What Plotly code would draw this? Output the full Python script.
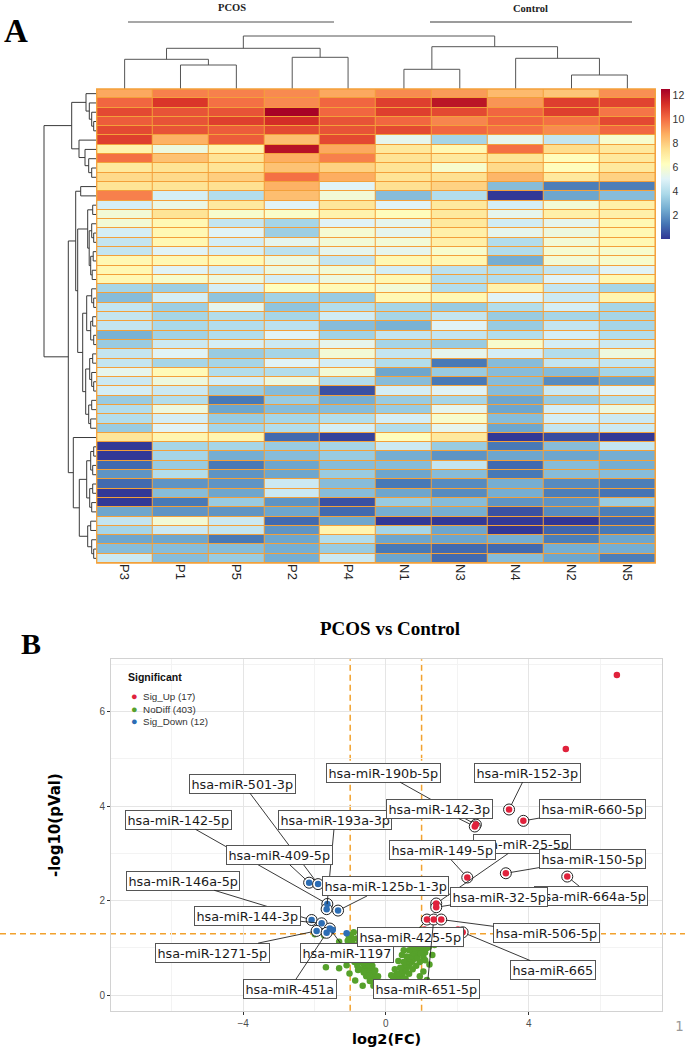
import math
import plotly.graph_objects as go

# ---------------- DATA : heatmap (panel A) ----------------
samples = ["P3", "P1", "P5", "P2", "P4", "N1", "N3", "N4", "N2", "N5"]

P3 = [8.9, 10.2, 10.8, 10.4, 10.8, 11.0, 6.8, 10.0, 7.2, 7.7,
      7.4, 9.7, 4.8, 5.8, 5.8, 4.8, 4.4, 4.4, 6.6, 6.6,
      6.6, 3.7, 3.0, 4.4, 4.4, 4.4, 2.7, 3.4, 4.4, 4.4,
      5.3, 4.6, 4.8, 3.4, 4.0, 4.0, 3.4, 7.3, 0.1, 0.1,
      1.1, 2.0, 1.1, 0.1, 0.1, 2.4, 4.4, 3.7, 2.4, 3.0,
      4.6]
P1 = [9.7, 11.2, 10.6, 10.6, 10.6, 8.7, 5.6, 8.3, 7.4, 7.7,
      7.4, 4.8, 5.5, 7.4, 6.6, 6.6, 6.6, 5.1, 6.6, 5.1,
      6.0, 3.5, 4.8, 3.5, 3.7, 3.8, 3.6, 4.6, 5.1, 3.7,
      6.5, 5.6, 4.6, 4.0, 5.6, 4.8, 5.1, 6.7, 3.7, 3.7,
      3.4, 4.0, 2.0, 3.0, 1.4, 2.0, 5.8, 4.6, 2.4, 3.0,
      3.0]
P5 = [9.7, 10.0, 10.6, 11.0, 10.4, 10.4, 6.8, 7.4, 7.4, 8.0,
      7.5, 4.0, 7.2, 6.0, 4.4, 5.1, 4.8, 4.8, 6.5, 4.8,
      5.6, 4.8, 3.2, 5.3, 4.0, 4.0, 4.0, 4.8, 3.4, 3.7,
      4.0, 4.8, 3.4, 1.4, 2.4, 3.4, 3.7, 6.7, 3.7, 2.6,
      1.4, 2.0, 2.0, 2.4, 3.4, 2.0, 4.6, 4.4, 1.4, 3.0,
      3.4]
P2 = [9.5, 9.5, 12.5, 11.4, 10.8, 8.4, 12.1, 8.8, 8.3, 10.0,
      8.7, 8.4, 5.1, 6.1, 3.7, 3.5, 5.3, 4.2, 5.6, 5.6,
      4.8, 6.3, 3.6, 3.2, 3.7, 4.2, 5.1, 4.6, 3.7, 5.1,
      4.0, 5.6, 3.0, 3.4, 3.0, 3.7, 4.0, 1.1, 3.4, 3.0,
      2.4, 2.4, 4.6, 4.6, 2.0, 2.4, 1.1, 2.0, 2.4, 2.6,
      2.6]
P4 = [8.9, 10.2, 10.2, 10.6, 10.6, 10.8, 8.9, 9.7, 7.9, 8.8,
      5.1, 5.8, 7.3, 6.8, 5.1, 5.9, 5.8, 5.3, 4.4, 5.8,
      5.6, 6.5, 3.4, 4.0, 4.7, 3.0, 3.6, 5.3, 5.8, 4.8,
      5.8, 4.0, 0.6, 2.6, 3.0, 4.0, 4.8, 0.3, 3.7, 3.4,
      3.0, 3.4, 3.0, 3.0, 0.6, 1.1, 2.4, 6.7, 4.0, 3.4,
      4.6]
N1 = [9.5, 11.0, 11.0, 10.2, 10.8, 5.3, 7.2, 7.4, 7.4, 7.4,
      7.5, 3.0, 5.1, 6.4, 5.3, 5.3, 5.8, 5.3, 6.6, 4.8,
      6.6, 5.8, 6.6, 3.7, 3.7, 2.7, 4.4, 3.7, 4.4, 4.0,
      2.4, 3.0, 4.8, 3.4, 3.4, 4.8, 4.0, 6.4, 4.6, 2.6,
      3.0, 2.4, 1.4, 2.4, 3.4, 2.6, 0.1, 3.7, 2.4, 1.4,
      2.4]
N3 = [9.2, 12.0, 10.8, 9.6, 10.2, 3.7, 6.6, 7.2, 6.0, 7.5,
      7.9, 4.0, 7.2, 7.2, 7.2, 6.9, 6.9, 6.0, 6.6, 4.2,
      4.0, 4.0, 6.6, 3.4, 4.4, 5.1, 4.4, 3.4, 5.3, 1.4,
      3.4, 1.4, 5.1, 3.7, 5.3, 6.0, 5.3, 7.2, 3.4, 2.0,
      4.4, 3.0, 1.8, 1.8, 3.0, 2.6, 0.1, 2.4, 2.4, 1.1,
      1.1]
N4 = [8.5, 9.3, 10.2, 10.2, 10.0, 5.3, 10.0, 7.4, 7.7, 8.6,
      3.0, 0.1, 4.8, 5.3, 4.7, 5.3, 4.0, 4.0, 2.6, 4.0,
      4.0, 6.8, 5.1, 4.0, 3.4, 3.4, 4.0, 6.0, 4.8, 3.0,
      3.0, 3.0, 3.0, 2.4, 2.4, 3.0, 2.4, 0.1, 1.4, 2.4,
      1.1, 1.4, 2.6, 2.6, 2.0, 0.6, 0.1, 0.1, 2.6, 1.1,
      3.0]
N2 = [8.2, 11.0, 11.0, 10.0, 9.5, 4.4, 7.6, 6.4, 6.4, 7.2,
      1.5, 2.4, 5.8, 6.9, 5.3, 5.6, 5.8, 5.9, 5.8, 4.4,
      5.1, 4.4, 4.6, 4.8, 3.7, 4.4, 4.8, 4.8, 4.0, 4.4,
      3.0, 1.8, 4.6, 3.4, 4.8, 4.8, 4.4, 0.5, 3.0, 2.4,
      3.0, 3.0, 1.8, 1.5, 2.0, 1.8, 0.0, 1.0, 1.5, 2.6,
      2.4]
N5 = [9.4, 10.9, 9.9, 10.8, 10.2, 6.0, 7.2, 7.2, 7.2, 7.9,
      1.5, 3.0, 6.9, 6.9, 6.6, 6.6, 6.6, 6.0, 6.0, 5.1,
      6.6, 3.7, 6.7, 3.7, 3.7, 3.7, 4.0, 4.6, 5.6, 4.4,
      3.7, 2.4, 5.1, 4.0, 5.6, 4.6, 4.6, 0.1, 4.4, 2.6,
      2.6, 3.0, 1.5, 1.3, 3.4, 1.5, 1.0, 1.4, 2.4, 2.6,
      1.5]

colorbar_ticks = [2, 4, 6, 8, 10, 12]
z_min, z_max = 0.06, 12.56

# column dendrogram (height, left, right); leaves = column positions
col_tree = (53.0, (40.7, (29.7, 0, (24.0, 1, 2)), (31.7, 3, 4)),
                  (42.3, (19.7, 5, 6), (30.7, 7, (14.0, 8, 9))))

# row dendrogram; leaves = row positions (0 = top row)
row_A1 = (10.7, 0, (7.4, 1, (5.0, 2, (3.0, 3, 4))))
row_A2 = (17.7, 5, (11.7, 6, (8.0, 7, (5.0, 8, 9))))
row_P = (16.0, 10, 11)
row_Q1 = (9.0, (4.0, 12, 13), (7.5, (5.0, 14, (3.0, 15, 16)), (6.0, (3.5, 17, 18), (4.5, 19, 20))))
row_Q2a = (10.0, (5.0, 21, (3.0, 22, 23)), (6.0, (4.0, 24, 25), (3.0, 26, 27)))
row_Q2b = (11.0, (7.0, (4.0, 28, 29), (5.0, 30, (3.0, 31, 32))), (8.0, (5.0, 33, 34), (6.0, 35, 36)))
row_R1 = (10.0, (6.0, (3.0, 38, 39), (4.0, 40, 41)), (7.0, (4.0, 42, 43), (5.0, 44, 45)))
row_R2 = (9.0, (6.0, 46, 47), (5.0, 48, (3.0, 49, 50)))
row_tree = (52.7,
            (25.0, row_A1, row_A2),
            (28.4,
             (21.0, row_P, (19.0, row_Q1, (14.0, row_Q2a, row_Q2b))),
             (23.4, 37, (17.4, row_R1, row_R2))))

# ---------------- DATA : volcano (panel B) ----------------
up_x = [6.47, 5.04, 3.45, 3.85, 2.52, 2.49, 2.28, 3.36, 5.08, 1.41, 1.41, 1.15, 1.34, 1.55, 2.15, 2.02, 1.08]
up_y = [6.78, 5.21, 3.93, 3.69, 3.61, 3.57, 2.49, 2.58, 2.51, 1.94, 1.86, 1.60, 1.60, 1.60, 1.33, 1.39, 1.39]
up_name = ["", "", "hsa-miR-152-3p", "hsa-miR-660-5p", "hsa-miR-190b-5p", "hsa-miR-142-3p",
           "hsa-miR-149-5p", "hsa-miR-150-5p", "hsa-miR-664a-5p", "hsa-miR-25-5p", "hsa-miR-32-5p",
           "hsa-miR-425-5p", "hsa-miR-651-5p", "hsa-miR-506-5p", "hsa-miR-665", "", ""]

down_x = [-2.15, -1.90, -1.64, -1.66, -1.34, -2.08, -1.80, -1.57, -1.94, -1.66, -1.10, -1.49]
down_y = [2.38, 2.35, 1.93, 1.82, 1.79, 1.59, 1.52, 1.41, 1.36, 1.32, 1.31, 1.38]
down_name = ["hsa-miR-409-5p", "hsa-miR-501-3p", "hsa-miR-142-5p", "hsa-miR-193a-3p",
             "hsa-miR-125b-1-3p", "hsa-miR-146a-5p", "hsa-miR-144-3p", "hsa-miR-1197",
             "hsa-miR-1271-5p", "hsa-miR-451a", "", ""]

nodiff_x = [-0.02, -0.05, -0.08, -0.04, -0.11, -0.14, -0.09, -0.18, -0.13, -0.21, -0.17, -0.25, -0.2, -0.28,
            -0.23, -0.31, -0.27, -0.35, -0.3, -0.38, -0.33, -0.42, -0.37, -0.46, -0.4, -0.49, -0.44, -0.53,
            -0.48, -0.57, -0.51, -0.6, -0.55, -0.64, -0.58, -0.68, -0.62, -0.71, -0.66, -0.75, -0.69, -0.78,
            -0.73, -0.82, -0.76, -0.86, -0.8, -0.89, -0.84, -0.93, -0.87, -0.96, -0.91, -1.0, -0.94, -1.03,
            -0.98, -1.07, -1.01, -0.97, -1.04, -0.99,
            -0.35, -0.45, -0.55, -0.62, -0.72, -0.8, -0.88, -0.95, -1.05, -1.12, -0.15, -0.22, -0.3, -0.38,
            -0.45, -0.52, -0.6, -0.68, -0.75, -0.82,
            0.02, 0.05, 0.08, 0.1, 0.07, 0.13, 0.16, 0.12, 0.19, 0.22, 0.17, 0.25, 0.28, 0.23, 0.31, 0.34,
            0.29, 0.37, 0.4, 0.35, 0.43, 0.46, 0.4, 0.49, 0.52, 0.46, 0.55, 0.58, 0.51, 0.61, 0.64, 0.57,
            0.67, 0.7, 0.62, 0.73, 0.76, 0.67, 0.79, 0.82, 0.72, 0.85, 0.88, 0.77, 0.91, 0.94, 0.82, 0.97,
            1.0, 0.87, 0.92, 0.98, 0.9, 0.96, 0.85, 0.93, 0.88, 0.97,
            0.3, 0.42, 0.55, 0.65, 0.75, 0.85, 0.95, 1.05, 1.1, 1.15, 0.2, 0.3, 0.4, 0.5, 0.58, 0.65, 0.72,
            0.78, 0.7, 0.6, 0.5, 0.45, 0.35, 0.25, 0.15, 0.8, 0.88, 0.98, 1.08, 1.2, 1.36, 1.15, 1.1, 1.22,
            1.05, 0.95,
            -1.68, -1.31, -1.02, -0.78, -0.86, -0.47, -1.1, -1.2, -1.31, -1.99, -1.73, -1.45, -1.2, -0.65,
            -0.9, 0.95, -0.6, 0.5, 1.3, 1.25]
nodiff_y = [0.01, 0.03, 0.05, 0.08, 0.09, 0.12, 0.14, 0.15, 0.18, 0.19, 0.22, 0.23, 0.26, 0.27,
            0.3, 0.31, 0.34, 0.35, 0.38, 0.39, 0.42, 0.43, 0.46, 0.47, 0.5, 0.51, 0.54, 0.55,
            0.58, 0.59, 0.62, 0.63, 0.66, 0.67, 0.7, 0.71, 0.74, 0.75, 0.78, 0.79, 0.82, 0.83,
            0.86, 0.87, 0.9, 0.91, 0.94, 0.95, 0.98, 0.99, 1.02, 1.03, 1.06, 1.07, 1.1, 1.11,
            1.14, 1.15, 1.18, 1.22, 1.25, 1.28,
            0.2, 0.3, 0.4, 0.48, 0.55, 0.62, 0.7, 0.78, 0.85, 0.95, 0.28, 0.4, 0.52, 0.62,
            0.72, 0.82, 0.9, 1.0, 1.1, 1.2,
            0.02, 0.05, 0.03, 0.08, 0.11, 0.12, 0.15, 0.17, 0.19, 0.21, 0.23, 0.25, 0.27, 0.29, 0.31, 0.33,
            0.35, 0.37, 0.39, 0.41, 0.43, 0.45, 0.47, 0.49, 0.51, 0.53, 0.55, 0.57, 0.59, 0.61, 0.63, 0.65,
            0.67, 0.69, 0.71, 0.73, 0.75, 0.77, 0.79, 0.81, 0.83, 0.85, 0.87, 0.89, 0.91, 0.93, 0.95, 0.97,
            0.99, 1.01, 1.05, 1.08, 1.12, 1.15, 1.18, 1.22, 1.26, 1.28,
            0.15, 0.25, 0.35, 0.45, 0.55, 0.62, 0.7, 0.8, 0.9, 1.0, 0.32, 0.45, 0.58, 0.7, 0.82, 0.95, 1.05,
            1.15, 1.25, 1.12, 0.95, 0.85, 0.72, 0.55, 0.42, 1.0, 0.78, 0.88, 1.1, 1.02, 1.06, 0.32, 0.74, 0.65,
            0.5, 0.4,
            0.59, 0.57, 0.46, 0.53, 0.31, 0.42, 0.63, 1.02, 1.13, 1.29, 1.27, 0.9, 0.75, 0.2,
            1.33, 1.38, 1.3, 1.3, 0.85, 1.2]

legend_title = "Significant"
legend_labels = ["Sig_Up (17)", "NoDiff (403)", "Sig_Down (12)"]
fc_cut = 1.0
p_cut = 0.05

# label box centres (layout, data units of the volcano axes)
label_pos = {
    "hsa-miR-152-3p": (3.96, 4.71), "hsa-miR-660-5p": (5.78, 3.94), "hsa-miR-190b-5p": (-0.08, 4.71),
    "hsa-miR-142-3p": (1.50, 3.94), "hsa-miR-149-5p": (1.58, 3.07), "hsa-miR-150-5p": (5.78, 2.89),
    "hsa-miR-664a-5p": (5.75, 2.10), "hsa-miR-25-5p": (3.81, 3.20), "hsa-miR-32-5p": (3.18, 2.07),
    "hsa-miR-425-5p": (0.70, 1.22), "hsa-miR-651-5p": (1.15, 0.12), "hsa-miR-506-5p": (4.50, 1.31),
    "hsa-miR-665": (4.68, 0.53),
    "hsa-miR-409-5p": (-2.98, 2.96), "hsa-miR-501-3p": (-4.01, 4.48), "hsa-miR-142-5p": (-5.80, 3.71),
    "hsa-miR-193a-3p": (-1.43, 3.71), "hsa-miR-125b-1-3p": (0.0, 2.30), "hsa-miR-146a-5p": (-5.68, 2.42),
    "hsa-miR-144-3p": (-3.87, 1.67), "hsa-miR-1197": (-1.08, 0.90), "hsa-miR-1271-5p": (-4.85, 0.90),
    "hsa-miR-451a": (-2.70, 0.13),
}
label_order = ["hsa-miR-25-5p", "hsa-miR-190b-5p", "hsa-miR-664a-5p", "hsa-miR-142-5p",
               "hsa-miR-501-3p", "hsa-miR-193a-3p", "hsa-miR-409-5p", "hsa-miR-146a-5p",
               "hsa-miR-144-3p", "hsa-miR-1271-5p", "hsa-miR-1197", "hsa-miR-451a",
               "hsa-miR-125b-1-3p", "hsa-miR-152-3p", "hsa-miR-660-5p", "hsa-miR-142-3p",
               "hsa-miR-149-5p", "hsa-miR-150-5p", "hsa-miR-32-5p", "hsa-miR-425-5p",
               "hsa-miR-506-5p", "hsa-miR-665", "hsa-miR-651-5p"]

# ---------------- STYLE / LAYOUT ----------------
W, H = 685, 1050
ORANGE = "#F3A03A"
RED, GREEN, BLUE = "#E0223C", "#56A12B", "#2C6DB4"
rdylbu_r = ["#313695", "#4575b4", "#74add1", "#abd9e9", "#e0f3f8", "#ffffbf",
            "#fee090", "#fdae61", "#f46d43", "#d73027", "#a50026"]
colorscale = [[i / (len(rdylbu_r) - 1), c] for i, c in enumerate(rdylbu_r)]


def fx(p):
    return p / W


def fy(p):
    return 1 - p / H


HM_L, HM_R, HM_T, HM_B = 96.7, 655.3, 89.0, 563.0
DEN_H = 54.0
VL, VR, VT, VB = 111.0, 661.5, 659.3, 1010.7


def dendro(node):
    if isinstance(node, int):
        return float(node), 0.0, [], []
    h, left, right = node
    pl, hl, xl, yl = dendro(left)
    pr, hr, xr, yr = dendro(right)
    xs = xl + xr + [pl, pl, pr, pr, None]
    ys = yl + yr + [hl, h, h, hr, None]
    return (pl + pr) / 2, h, xs, ys


fig = go.Figure()

columns = [P3, P1, P5, P2, P4, N1, N3, N4, N2, N5]
n_rows = len(P3)
z = [[col[i] for col in columns] for i in range(n_rows)]

fig.add_trace(go.Heatmap(
    z=z, x=list(range(len(samples))), y=list(range(n_rows)),
    colorscale=colorscale, zmin=z_min, zmax=z_max, xgap=1, ygap=1,
    xaxis="x", yaxis="y", hoverinfo="skip",
    colorbar=dict(x=fx(661), xanchor="left", y=fy(HM_T), yanchor="top",
                  len=150 / H, lenmode="fraction", thickness=9, thicknessmode="pixels",
                  outlinewidth=0, tickvals=colorbar_ticks, ticks="", xpad=0, ypad=0,
                  tickfont=dict(family="Liberation Sans", size=10.5, color="#333333")),
))

_, _, cxs, cys = dendro(col_tree)
fig.add_trace(go.Scatter(x=cxs, y=cys, mode="lines", line=dict(color="#555555", width=1),
                         xaxis="x2", yaxis="y2", showlegend=False, hoverinfo="skip"))
_, _, rps, rhs = dendro(row_tree)
fig.add_trace(go.Scatter(x=rhs, y=rps, mode="lines", line=dict(color="#3a3a3a", width=1),
                         xaxis="x3", yaxis="y3", showlegend=False, hoverinfo="skip"))

# volcano
fig.add_trace(go.Scatter(x=nodiff_x, y=nodiff_y, mode="markers", marker=dict(color=GREEN, size=6.5),
                         xaxis="x4", yaxis="y4", showlegend=False, hoverinfo="skip"))
ring_x = [x for x, n in zip(up_x, up_name) if n] + [x for x, n in zip(down_x, down_name) if n]
ring_y = [y for y, n in zip(up_y, up_name) if n] + [y for y, n in zip(down_y, down_name) if n]
fig.add_trace(go.Scatter(x=ring_x, y=ring_y, mode="markers",
                         marker=dict(color="white", size=11, line=dict(color="#222222", width=1)),
                         xaxis="x4", yaxis="y4", showlegend=False, hoverinfo="skip"))
fig.add_trace(go.Scatter(x=up_x, y=up_y, mode="markers", marker=dict(color=RED, size=6.5),
                         xaxis="x4", yaxis="y4", showlegend=False, hoverinfo="skip"))
fig.add_trace(go.Scatter(x=down_x, y=down_y, mode="markers", marker=dict(color=BLUE, size=6.5),
                         xaxis="x4", yaxis="y4", showlegend=False, hoverinfo="skip"))

hidden = dict(visible=False, showgrid=False, zeroline=False)
fig.update_layout(
    width=W, height=H, margin=dict(l=0, r=0, t=0, b=0, autoexpand=False),
    paper_bgcolor="white", plot_bgcolor="white", showlegend=False,
    xaxis=dict(domain=[fx(HM_L), fx(HM_R)], range=[-0.5, len(samples) - 0.5], anchor="y",
               tickvals=list(range(len(samples))), ticktext=samples, tickangle=90,
               showgrid=False, zeroline=False, ticks="", showline=False,
               tickfont=dict(family="Liberation Sans", size=13, color="#222222")),
    yaxis=dict(domain=[fy(HM_B), fy(HM_T)], range=[n_rows - 0.5, -0.5], anchor="x",
               showticklabels=False, showgrid=False, zeroline=False, ticks=""),
    xaxis2=dict(domain=[fx(HM_L), fx(HM_R)], range=[-0.5, len(samples) - 0.5], anchor="y2", **hidden),
    yaxis2=dict(domain=[fy(HM_T), fy(HM_T - DEN_H)], range=[0, DEN_H], anchor="x2", **hidden),
    xaxis3=dict(domain=[fx(HM_L - DEN_H), fx(HM_L)], range=[DEN_H, 0], anchor="y3", **hidden),
    yaxis3=dict(domain=[fy(HM_B), fy(HM_T)], range=[n_rows - 0.5, -0.5], anchor="x3", **hidden),
    xaxis4=dict(domain=[fx(VL), fx(VR)], range=[-7.7, 7.72], anchor="y4",
                tickvals=[-4, 0, 4], showgrid=True, gridcolor="#e5e5e5", gridwidth=1,
                minor=dict(tickvals=[-6, -2, 2, 6], showgrid=True, gridcolor="#f3f3f3", ticks=""),
                zeroline=False, showline=True, mirror=True, linecolor="#d2d2d2", linewidth=1,
                ticks="outside", ticklen=3, tickcolor="#333333",
                tickfont=dict(family="Liberation Sans", size=10, color="#4d4d4d")),
    yaxis4=dict(domain=[fy(VB), fy(VT)], range=[-0.33, 7.11], anchor="x4",
                tickvals=[0, 2, 4, 6], showgrid=True, gridcolor="#e5e5e5", gridwidth=1,
                minor=dict(tickvals=[1, 3, 5, 7], showgrid=True, gridcolor="#f3f3f3", ticks=""),
                zeroline=False, showline=True, mirror=True, linecolor="#d2d2d2", linewidth=1,
                ticks="outside", ticklen=3, tickcolor="#333333",
                tickfont=dict(family="Liberation Sans", size=10, color="#4d4d4d")),
)

shapes = [
    dict(type="rect", xref="x domain", yref="y domain", x0=0, x1=1, y0=0, y1=1,
         fillcolor=ORANGE, line=dict(width=0), layer="below"),
    dict(type="rect", xref="x domain", yref="y domain", x0=0, x1=1, y0=0, y1=1,
         line=dict(color=ORANGE, width=1.3), fillcolor="rgba(0,0,0,0)", layer="above"),
    dict(type="line", xref="paper", yref="paper", x0=fx(128), x1=fx(334), y0=fy(22), y1=fy(22),
         line=dict(color="#8a8a8a", width=1.6)),
    dict(type="line", xref="paper", yref="paper", x0=fx(430), x1=fx(632), y0=fy(22), y1=fy(22),
         line=dict(color="#3a3a3a", width=1.1)),
    dict(type="line", xref="x4", yref="y4 domain", x0=-fc_cut, x1=-fc_cut, y0=0, y1=1,
         line=dict(color="#F2A22E", width=1.5, dash="6px,4px"), layer="below"),
    dict(type="line", xref="x4", yref="y4 domain", x0=fc_cut, x1=fc_cut, y0=0, y1=1,
         line=dict(color="#F2A22E", width=1.5, dash="6px,4px"), layer="below"),
    dict(type="line", xref="paper", yref="y4", x0=0, x1=1, y0=-math.log10(p_cut), y1=-math.log10(p_cut),
         line=dict(color="#F2A22E", width=1.5, dash="6px,4px"), layer="below"),
]
fig.update_layout(shapes=shapes)

ann = []
serif = "Liberation Serif"


def txt(text, x, y, size, family, color="black", xanchor="center", yanchor="middle", **kw):
    return dict(text=text, x=fx(x), y=fy(y), xref="paper", yref="paper", xanchor=xanchor,
                yanchor=yanchor, showarrow=False, font=dict(family=family, size=size, color=color), **kw)


ann.append(txt("<b>A</b>", 2, 31, 33, serif, xanchor="left"))
ann.append(txt("<b>B</b>", 19, 643, 30, serif, xanchor="left"))
ann.append(txt("<b>PCOS</b>", 232, 7, 10.5, serif, "#222222"))
ann.append(txt("<b>Control</b>", 530, 8, 10.5, serif, "#222222"))
ann.append(txt("<b>PCOS vs Control</b>", 390, 628, 19, serif))
ann.append(txt("<b>log2(FC)</b>", 386.5, 1039, 14.5, "DejaVu Sans"))
ann.append(txt("<b>-log10(pVal)</b>", 55, 825, 15, "DejaVu Sans", textangle=-90))
ann.append(txt("1", 679, 1026, 14, "DejaVu Sans Mono", "#9a9a9a"))

# legend (drawn as text)
ann.append(txt("<b>" + legend_title + "</b>", 126, 677, 10.5, "Liberation Sans", "#111111", xanchor="left"))
legend_lines = ["<span style='color:%s;font-size:11px'>●</span>  %s" % (c, lab)
                for c, lab in zip([RED, GREEN, BLUE], legend_labels)]
ann.append(txt("<br>".join(legend_lines), 129, 708.5, 9.8, "Liberation Sans", "#333333",
               xanchor="left", align="left"))

# repel-style labels
pts = {}
for x, y, n in zip(up_x, up_y, up_name):
    if n:
        pts[n] = (x, y)
for x, y, n in zip(down_x, down_y, down_name):
    if n:
        pts[n] = (x, y)
for n in label_order:
    px_, py_ = pts[n]
    lx, ly = label_pos[n]
    ann.append(dict(text=n, x=px_, y=py_, xref="x4", yref="y4", ax=lx, ay=ly, axref="x4", ayref="y4",
                    showarrow=True, arrowhead=0, arrowwidth=0.9, arrowcolor="#222222", standoff=5,
                    bgcolor="white", bordercolor="#555555", borderwidth=1, borderpad=1.5,
                    font=dict(family="DejaVu Sans", size=12.8, color="#1a1a1a")))

fig.update_layout(annotations=ann)
fig.write_html("out.html", config={"displayModeBar": False, "staticPlot": True},
               post_script="document.body.style.margin='0px';document.body.style.padding='0px';")
